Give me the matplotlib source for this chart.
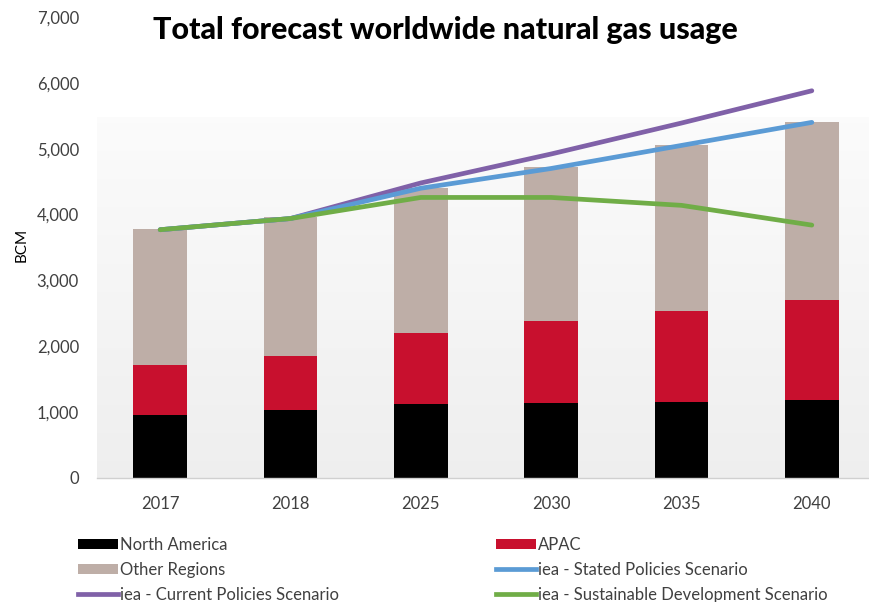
import numpy as np
import matplotlib
matplotlib.use("Agg")
import matplotlib.pyplot as plt
from matplotlib.patches import Patch
from matplotlib.lines import Line2D

years = ["2017", "2018", "2025", "2030", "2035", "2040"]
north_america = [950, 1030, 1130, 1145, 1160, 1190]
apac = [760, 820, 1075, 1240, 1380, 1520]
other_regions = [2070, 2110, 2195, 2330, 2515, 2690]
stated_policies = [3770, 3940, 4400, 4700, 5050, 5400]
current_policies = [3770, 3940, 4480, 4920, 5390, 5880]
sustainable_dev = [3770, 3940, 4260, 4260, 4140, 3840]

C_NA = "#000000"
C_APAC = "#C8102E"
C_OTHER = "#BEAEA7"
C_STATED = "#5B9BD5"
C_CURRENT = "#8061A8"
C_SDS = "#70AD47"
TXT = "#404040"

plt.rcParams["font.family"] = ["Lato", "DejaVu Sans"]

W, H = 869, 602
fig = plt.figure(figsize=(W / 100, H / 100), dpi=100)
ax_left, ax_right = 95, 877
ax_bot, ax_top = 478, 17
ax = fig.add_axes([ax_left / W, (H - ax_bot) / H,
                   (ax_right - ax_left) / W, (ax_bot - ax_top) / H])

x = np.arange(len(years))
ax.set_xlim(-0.5, len(years) - 0.5)
ax.set_ylim(0, 7000)

# plot-area backdrop: soft vertical gray gradient
grad = np.linspace(0, 1, 256).reshape(-1, 1)
top_c = np.array([0.985, 0.985, 0.985])
bot_c = np.array([0.935, 0.935, 0.935])
img = bot_c + (top_c - bot_c) * grad
ax.imshow(img[::-1].reshape(256, 1, 3), extent=(-0.485, 5.5, 0, 5480),
          aspect="auto", origin="upper", zorder=0, interpolation="bilinear")

bw = 0.41
ax.bar(x, north_america, bw, color=C_NA, zorder=2)
b1 = np.array(north_america)
ax.bar(x, apac, bw, bottom=b1, color=C_APAC, zorder=2)
b2 = b1 + np.array(apac)
ax.bar(x, other_regions, bw, bottom=b2, color=C_OTHER, zorder=2)

lw = 3.4
ax.plot(x, current_policies, color=C_CURRENT, lw=lw, zorder=3, solid_capstyle="round")
ax.plot(x, stated_policies, color=C_STATED, lw=lw, zorder=4, solid_capstyle="round")
ax.plot(x, sustainable_dev, color=C_SDS, lw=lw, zorder=5, solid_capstyle="round")

ax.set_xticks(x)
ax.set_xticklabels(years, fontsize=12, color=TXT)
yt = np.arange(0, 7001, 1000)
ax.set_yticks(yt)
ax.set_yticklabels([f"{v:,}" for v in yt], fontsize=12, color=TXT)
ax.tick_params(axis="both", length=0)
ax.tick_params(axis="x", pad=13)
ax.tick_params(axis="y", pad=11.5)
for s in ["top", "right", "left"]:
    ax.spines[s].set_visible(False)
ax.spines["bottom"].set_color("#d0d0d0")
ax.spines["bottom"].set_linewidth(1.0)
ax.spines["bottom"].set_bounds(-0.485, 5.5)

fig.text(22 / W, 1 - 245 / H, "BCM", rotation=90, ha="center", va="center",
         fontsize=11, color="#000000")

fig.text(445 / W, 1 - 30 / H, "Total forecast worldwide natural gas usage",
         ha="center", va="center", fontsize=22, fontweight="black", color="#000000")

handles = [
    Patch(facecolor=C_NA, label="North America"),
    Patch(facecolor=C_OTHER, label="Other Regions"),
    Line2D([], [], color=C_CURRENT, lw=lw, label="iea - Current Policies Scenario"),
    Patch(facecolor=C_APAC, label="APAC"),
    Line2D([], [], color=C_STATED, lw=lw, label="iea - Stated Policies Scenario"),
    Line2D([], [], color=C_SDS, lw=lw, label="iea - Sustainable Development Scenario"),
]
leg = fig.legend(handles=handles, ncol=2, loc="upper left",
                 bbox_to_anchor=(78 / W, 1 - 537 / H), frameon=False,
                 fontsize=12, handlelength=2.4, handleheight=0.6,
                 handletextpad=0.12, columnspacing=9.4, labelspacing=0.54,
                 borderaxespad=0, borderpad=0)
for t in leg.get_texts():
    t.set_color(TXT)

fig.savefig("out.png", dpi=100, facecolor="white")
